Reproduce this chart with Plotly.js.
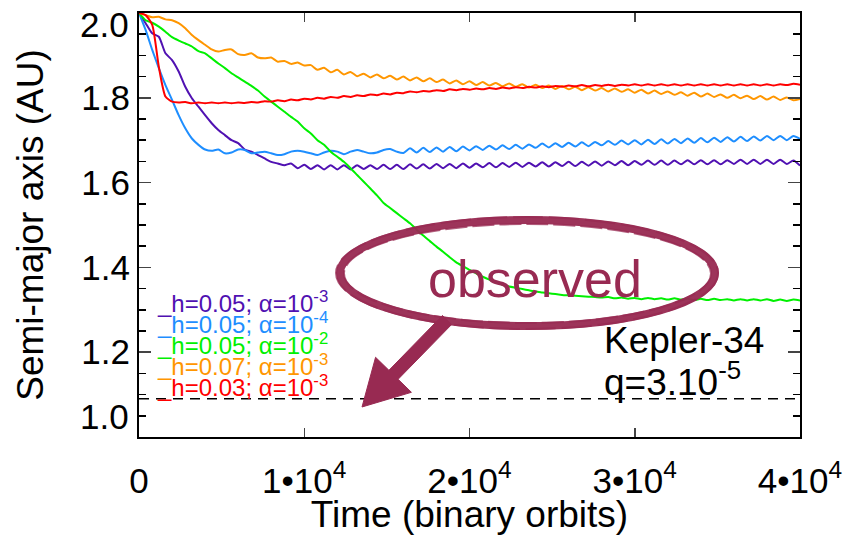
<!DOCTYPE html>
<html>
<head>
<meta charset="utf-8">
<script src="https://cdn.plot.ly/plotly-3.0.1.min.js"></script>
<style>html,body{margin:0;padding:0;background:#fff;}#chart{width:848px;height:535px;}</style>
</head>
<body>
<div id="chart"></div>
<script>
// Time in binary orbits (sample grid)
const time = [0,400,800,1200,1600,2000,2400,2800,3200,3600,4000,4400,4800,5200,5600,6000,6400,6800,7200,7600,
  8000,8400,8800,9200,9600,10000,10400,10800,11200,11600,12000,12400,12800,13200,13600,14000,14400,14800,15200,15600,
  16000,16400,16800,17200,17600,18000,18400,18800,19200,19600,20000,20400,20800,21200,21600,22000,22400,22800,23200,23600,
  24000,24400,24800,25200,25600,26000,26400,26800,27200,27600,28000,28400,28800,29200,29600,30000,30400,30800,31200,31600,
  32000,32400,32800,33200,33600,34000,34400,34800,35200,35600,36000,36400,36800,37200,37600,38000,38400,38800,39200,39600,40000];

// h=0.05; alpha=1e-3 (purple)
const aPurple = [2.000,1.976,1.952,1.944,1.905,1.889,1.862,1.826,1.799,1.779,1.759,1.740,1.724,1.712,1.700,1.693,1.678,1.673,1.665,1.657,
  1.649,1.645,1.641,1.645,1.634,1.642,1.632,1.641,1.631,1.641,1.631,1.641,1.631,1.641,1.632,1.641,1.632,1.642,1.632,1.642,
  1.632,1.643,1.633,1.643,1.633,1.644,1.634,1.644,1.634,1.645,1.635,1.645,1.636,1.646,1.636,1.646,1.637,1.647,1.637,1.647,
  1.638,1.648,1.638,1.648,1.639,1.649,1.639,1.649,1.640,1.650,1.640,1.650,1.641,1.651,1.641,1.651,1.642,1.652,1.642,1.652,
  1.642,1.652,1.643,1.653,1.643,1.653,1.643,1.653,1.643,1.653,1.644,1.654,1.644,1.654,1.644,1.654,1.644,1.654,1.644,1.652,1.640];

// h=0.05; alpha=1e-4 (blue)
const aBlue = [2.000,1.960,1.913,1.870,1.830,1.795,1.759,1.728,1.704,1.689,1.678,1.675,1.678,1.669,1.671,1.678,1.677,1.669,1.671,1.673,
  1.669,1.665,1.667,1.673,1.675,1.673,1.669,1.665,1.671,1.675,1.673,1.667,1.673,1.677,1.673,1.669,1.671,1.677,1.679,1.673,
  1.670,1.681,1.671,1.682,1.672,1.683,1.673,1.684,1.674,1.685,1.676,1.686,1.677,1.687,1.678,1.688,1.679,1.689,1.680,1.690,
  1.682,1.692,1.683,1.693,1.684,1.694,1.685,1.695,1.686,1.696,1.688,1.698,1.689,1.699,1.690,1.700,1.690,1.701,1.691,1.702,
  1.692,1.703,1.693,1.704,1.694,1.705,1.695,1.706,1.696,1.707,1.697,1.708,1.698,1.709,1.699,1.710,1.700,1.710,1.700,1.710,1.703];

// h=0.05; alpha=1e-2 (green)
const aGreen = [2.000,1.983,1.977,1.968,1.956,1.943,1.935,1.928,1.921,1.910,1.905,1.893,1.881,1.870,1.858,1.848,1.838,1.828,1.817,1.803,
  1.791,1.779,1.767,1.755,1.744,1.728,1.716,1.700,1.689,1.673,1.661,1.649,1.634,1.618,1.602,1.586,1.570,1.552,1.540,1.528,
  1.516,1.504,1.489,1.475,1.462,1.449,1.437,1.424,1.412,1.403,1.394,1.386,1.378,1.371,1.365,1.359,1.355,1.352,1.349,1.346,
  1.343,1.341,1.339,1.337,1.335,1.334,1.333,1.332,1.331,1.330,1.329,1.330,1.327,1.329,1.326,1.328,1.325,1.328,1.325,1.327,
  1.324,1.327,1.324,1.326,1.323,1.326,1.323,1.326,1.323,1.325,1.322,1.325,1.322,1.325,1.322,1.325,1.321,1.324,1.321,1.324,1.322];

// h=0.07; alpha=1e-3 (orange)
const aOrange = [2.000,1.995,1.990,1.991,1.985,1.983,1.976,1.964,1.948,1.936,1.925,1.914,1.909,1.913,1.914,1.903,1.901,1.905,1.895,1.893,
  1.895,1.885,1.887,1.880,1.883,1.876,1.877,1.866,1.871,1.860,1.866,1.855,1.861,1.851,1.857,1.848,1.855,1.846,1.852,1.843,
  1.850,1.841,1.848,1.839,1.846,1.837,1.843,1.834,1.841,1.832,1.839,1.830,1.837,1.829,1.835,1.827,1.834,1.826,1.832,1.824,
  1.831,1.823,1.829,1.821,1.828,1.820,1.826,1.818,1.825,1.817,1.823,1.815,1.822,1.814,1.820,1.812,1.819,1.810,1.817,1.809,
  1.815,1.807,1.813,1.805,1.812,1.803,1.810,1.802,1.808,1.800,1.807,1.799,1.805,1.797,1.804,1.796,1.803,1.795,1.801,1.794,1.797];

// h=0.03; alpha=1e-3 (red)
const aRed = [2.000,1.995,1.972,1.873,1.803,1.791,1.789,1.790,1.787,1.789,1.787,1.789,1.787,1.789,1.787,1.789,1.788,1.790,1.789,1.792,
  1.791,1.794,1.792,1.796,1.794,1.798,1.796,1.800,1.798,1.802,1.800,1.804,1.802,1.806,1.804,1.808,1.806,1.810,1.808,1.812,
  1.811,1.815,1.813,1.816,1.815,1.818,1.816,1.820,1.818,1.821,1.819,1.822,1.820,1.823,1.821,1.824,1.822,1.825,1.823,1.826,
  1.824,1.827,1.825,1.828,1.826,1.829,1.827,1.830,1.827,1.830,1.828,1.831,1.828,1.831,1.829,1.832,1.829,1.832,1.829,1.832,
  1.829,1.832,1.829,1.832,1.829,1.832,1.829,1.832,1.829,1.832,1.829,1.832,1.829,1.832,1.829,1.832,1.829,1.832,1.830,1.833,1.831];

const observedA = 1.09;   // observed semi-major axis of Kepler-34 b (AU)
const timeRange = [0, 40000];
const aRange = [1.0, 2.0];

const seriesNames = ['h=0.05; α=10<sup>-3</sup>','h=0.05; α=10<sup>-4</sup>','h=0.05; α=10<sup>-2</sup>','h=0.07; α=10<sup>-3</sup>','h=0.03; α=10<sup>-3</sup>'];
const seriesColors = ['#5011B2','#1E8EFF','#00F000','#FF9600','#FF0000'];
const seriesValues = [aPurple, aBlue, aGreen, aOrange, aRed];

const xTickVals = [0,10000,20000,30000,40000];
const xTickText = ['0','1•10<sup>4</sup>','2•10<sup>4</sup>','3•10<sup>4</sup>','4•10<sup>4</sup>'];
const yTickVals = [1.2,1.4,1.6,1.8];
const yTickText = ['1.2','1.4','1.6','1.8'];
// end labels of the y range, drawn inside the frame like the original
const yEndVals = [1.0, 2.0];
const yEndText = ['1.0', '2.0'];

const FONT = 'Liberation Sans, Arial, Helvetica, sans-serif';
const MAROON = '#982A52';

const traces = [];
seriesValues.forEach((v, i) => {
  traces.push({x: time, y: v, type: 'scatter', mode: 'lines', name: seriesNames[i],
    line: {color: seriesColors[i], width: 2, shape: 'spline', smoothing: 0.6}, showlegend: false, hoverinfo: 'skip'});
});
traces.push({x: timeRange, y: [observedA, observedA], type: 'scatter', mode: 'lines', showlegend: false,
  line: {color: '#000', width: 1.5, dash: '10px,7px'}, hoverinfo: 'skip'});

// plot-area pixel geometry (for decorations only)
const L = 139, R = 800, T = 13, B = 437;
const px = (x) => ((x - L) / (R - L));
const py = (y) => ((B - y) / (B - T));

const annotations = [];
yEndVals.forEach((v, i) => {
  annotations.push({x: 0, y: v, xref: 'paper', yref: 'y', xanchor: 'right', yanchor: 'middle', xshift: -8,
    yshift: i === 0 ? 21 : -11, text: yEndText[i], showarrow: false, font: {family: FONT, size: 35, color: '#000'}});
});
const labelY = [1.318, 1.268, 1.219, 1.170, 1.120];
seriesNames.forEach((n, i) => {
  annotations.push({x: 980, y: labelY[i], xref: 'x', yref: 'y', xanchor: 'left', yanchor: 'middle',
    text: '_' + n, showarrow: false, font: {family: FONT, size: 24, color: seriesColors[i]}});
});
annotations.push({x: 28000, y: 1.228, xref: 'x', yref: 'y', xanchor: 'left', yanchor: 'middle', text: 'Kepler-34',
  showarrow: false, font: {family: FONT, size: 37, color: '#000'}});
annotations.push({x: 28000, y: 1.136, xref: 'x', yref: 'y', xanchor: 'left', yanchor: 'middle', text: 'q=3.10<sup>-5</sup>',
  showarrow: false, font: {family: FONT, size: 37, color: '#000'}});
annotations.push({x: 23964, y: 1.372, xref: 'x', yref: 'y', xanchor: 'center', yanchor: 'middle', text: 'observed',
  showarrow: false, font: {family: FONT, size: 52, color: MAROON}});

const arrowPts = [[442.4,315.5],[451.6,324.5],[398.1,379.3],[411.4,392.3],[362,407],[375.6,357.3],[388.9,370.3]];
const arrowPath = 'M ' + arrowPts.map(p => px(p[0]).toFixed(4) + ' ' + py(p[1]).toFixed(4)).join(' L ') + ' Z';

const shapes = [
  {type: 'circle', xref: 'paper', yref: 'paper', x0: px(340), x1: px(715), y0: py(326), y1: py(220), line: {color: MAROON, width: 8}, opacity: 0.95},
  {type: 'circle', xref: 'paper', yref: 'paper', x0: px(336), x1: px(718), y0: py(329), y1: py(217), line: {color: MAROON, width: 2, dash: '30px,6px'}, opacity: 0.75},
  {type: 'circle', xref: 'paper', yref: 'paper', x0: px(344), x1: px(711), y0: py(323), y1: py(224), line: {color: MAROON, width: 2, dash: '22px,5px'}, opacity: 0.75},
  {type: 'path', xref: 'paper', yref: 'paper', path: arrowPath, fillcolor: MAROON, line: {color: MAROON, width: 1}}
];

const layout = {
  width: 848, height: 535,
  margin: {l: L, r: 848 - R, t: T, b: 535 - B},
  paper_bgcolor: '#fff', plot_bgcolor: '#fff',
  font: {family: FONT, color: '#000', size: 35},
  showlegend: false,
  xaxis: {range: timeRange, tickvals: xTickVals, ticktext: xTickText, ticks: 'inside', ticklen: 9, tickwidth: 1.5,
    showline: true, linewidth: 2, linecolor: '#000', mirror: 'allticks', showgrid: false, zeroline: false,
    ticklabelstandoff: 12,
    tickfont: {family: FONT, size: 35, color: '#000'},
    title: {text: 'Time (binary orbits)', font: {family: FONT, size: 37, color: '#000'}, standoff: 0}},
  yaxis: {range: aRange, tickvals: yTickVals, ticktext: yTickText, ticks: 'inside', ticklen: 12, tickwidth: 1.5,
    showline: true, linewidth: 2, linecolor: '#000', mirror: 'allticks', showgrid: false, zeroline: false,
    minor: {dtick: 0.05, ticks: 'inside', ticklen: 7, tickwidth: 1.5, tickcolor: '#000', showgrid: false},
    tickfont: {family: FONT, size: 35, color: '#000'},
    title: {text: 'Semi-major axis (AU)', font: {family: FONT, size: 37, color: '#000'}, standoff: 26}},
  annotations: annotations,
  shapes: shapes
};

Plotly.newPlot('chart', traces, layout, {staticPlot: true, displayModeBar: false});
</script>
</body>
</html>
